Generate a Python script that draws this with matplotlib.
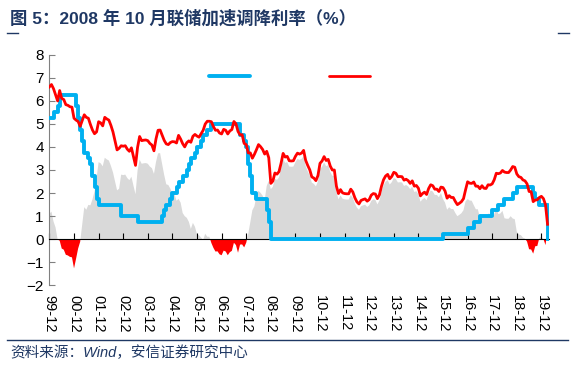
import numpy as np
import matplotlib
matplotlib.use("Agg")
import matplotlib.pyplot as plt
from matplotlib.lines import Line2D

plt.rcParams["font.family"] = ["Liberation Sans", "Noto Sans CJK SC"]

# Monthly data, 1999-12 .. 2020-03
# US 10Y treasury yield (%)
ten_year = [
    6.60,
    6.70, 6.52, 6.26, 5.99, 6.44, 6.10, 6.05, 5.83, 5.80, 5.74, 5.72, 5.24,  # 2000
    5.16, 5.10, 4.89, 5.14, 5.39, 5.28, 5.24, 4.97, 4.73, 4.57, 4.65, 5.09,  # 2001
    5.04, 4.91, 5.28, 5.21, 5.16, 4.93, 4.65, 4.26, 3.87, 3.94, 4.05, 4.03,  # 2002
    4.05, 3.90, 3.81, 3.96, 3.57, 3.20, 3.98, 4.45, 4.27, 4.29, 4.30, 4.27,  # 2003
    4.15, 4.08, 3.83, 4.35, 4.72, 4.73, 4.50, 4.28, 4.13, 4.10, 4.19, 4.23,  # 2004
    4.22, 4.17, 4.50, 4.34, 4.14, 4.00, 4.18, 4.26, 4.20, 4.46, 4.54, 4.47,  # 2005
    4.42, 4.57, 4.72, 4.99, 5.11, 5.11, 5.09, 4.88, 4.72, 4.73, 4.60, 4.56,  # 2006
    4.76, 4.72, 4.56, 4.69, 4.75, 5.10, 5.00, 4.67, 4.52, 4.53, 4.15, 4.10,  # 2007
    3.74, 3.74, 3.51, 3.68, 3.88, 4.10, 4.01, 3.89, 3.69, 3.81, 3.53, 2.42,  # 2008
    2.52, 2.87, 2.82, 2.93, 3.29, 3.72, 3.56, 3.59, 3.40, 3.39, 3.40, 3.59,  # 2009
    3.73, 3.69, 3.73, 3.85, 3.42, 3.20, 3.01, 2.70, 2.65, 2.54, 2.76, 3.29,  # 2010
    3.39, 3.58, 3.41, 3.46, 3.17, 3.00, 3.00, 2.30, 1.98, 2.15, 2.01, 1.98,  # 2011
    1.97, 1.97, 2.17, 2.05, 1.80, 1.62, 1.53, 1.68, 1.72, 1.75, 1.65, 1.72,  # 2012
    1.91, 1.98, 1.96, 1.76, 1.93, 2.30, 2.58, 2.74, 2.81, 2.62, 2.72, 2.90,  # 2013
    2.86, 2.71, 2.72, 2.71, 2.56, 2.60, 2.54, 2.42, 2.53, 2.30, 2.33, 2.21,  # 2014
    1.88, 1.98, 2.04, 1.94, 2.20, 2.36, 2.32, 2.17, 2.17, 2.07, 2.26, 2.24,  # 2015
    2.09, 1.78, 1.89, 1.81, 1.81, 1.64, 1.50, 1.56, 1.63, 1.76, 2.14, 2.49,  # 2016
    2.43, 2.42, 2.48, 2.30, 2.30, 2.19, 2.32, 2.21, 2.20, 2.36, 2.35, 2.40,  # 2017
    2.58, 2.86, 2.84, 2.87, 2.98, 2.91, 2.89, 2.89, 3.00, 3.15, 3.12, 2.83,  # 2018
    2.71, 2.68, 2.57, 2.53, 2.40, 2.07, 2.06, 1.63, 1.70, 1.71, 1.81, 1.86,  # 2019
    1.76, 1.50, 0.65,                                                        # 2020
]

# Fed funds rate, lower end (%)
fed_funds = [
    5.25,
    5.25, 5.50, 5.50, 5.75, 6.25, 6.25, 6.25, 6.25, 6.25, 6.25, 6.25, 6.25,  # 2000
    5.75, 5.25, 4.75, 4.25, 3.75, 3.75, 3.50, 3.25, 2.75, 2.25, 1.75, 1.50,  # 2001
    1.50, 1.50, 1.50, 1.50, 1.50, 1.50, 1.50, 1.50, 1.50, 1.50, 1.00, 1.00,  # 2002
    1.00, 1.00, 1.00, 1.00, 1.00, 1.00, 0.75, 0.75, 0.75, 0.75, 0.75, 0.75,  # 2003
    0.75, 0.75, 0.75, 0.75, 0.75, 0.75, 1.00, 1.25, 1.50, 1.50, 1.75, 2.00,  # 2004
    2.00, 2.25, 2.50, 2.50, 2.75, 2.75, 3.00, 3.25, 3.50, 3.50, 3.75, 4.00,  # 2005
    4.00, 4.25, 4.50, 4.50, 4.75, 4.75, 5.00, 5.00, 5.00, 5.00, 5.00, 5.00,  # 2006
    5.00, 5.00, 5.00, 5.00, 5.00, 5.00, 5.00, 5.00, 4.50, 4.50, 4.25, 4.00,  # 2007
    3.25, 2.75, 2.00, 2.00, 1.75, 1.75, 1.75, 1.75, 1.75, 1.25, 0.75, 0.00,  # 2008
    0.00, 0.00, 0.00, 0.00, 0.00, 0.00, 0.00, 0.00, 0.00, 0.00, 0.00, 0.00,  # 2009
    0.00, 0.00, 0.00, 0.00, 0.00, 0.00, 0.00, 0.00, 0.00, 0.00, 0.00, 0.00,  # 2010
    0.00, 0.00, 0.00, 0.00, 0.00, 0.00, 0.00, 0.00, 0.00, 0.00, 0.00, 0.00,  # 2011
    0.00, 0.00, 0.00, 0.00, 0.00, 0.00, 0.00, 0.00, 0.00, 0.00, 0.00, 0.00,  # 2012
    0.00, 0.00, 0.00, 0.00, 0.00, 0.00, 0.00, 0.00, 0.00, 0.00, 0.00, 0.00,  # 2013
    0.00, 0.00, 0.00, 0.00, 0.00, 0.00, 0.00, 0.00, 0.00, 0.00, 0.00, 0.00,  # 2014
    0.00, 0.00, 0.00, 0.00, 0.00, 0.00, 0.00, 0.00, 0.00, 0.00, 0.00, 0.25,  # 2015
    0.25, 0.25, 0.25, 0.25, 0.25, 0.25, 0.25, 0.25, 0.25, 0.25, 0.25, 0.50,  # 2016
    0.50, 0.50, 0.75, 0.75, 0.75, 1.00, 1.00, 1.00, 1.00, 1.00, 1.00, 1.25,  # 2017
    1.25, 1.25, 1.50, 1.50, 1.50, 1.75, 1.75, 1.75, 1.75, 2.00, 2.00, 2.25,  # 2018
    2.25, 2.25, 2.25, 2.25, 2.25, 2.25, 2.25, 2.00, 1.75, 1.75, 1.50, 1.50,  # 2019
    1.50, 1.50, 0.00,                                                        # 2020
]

# width of the target band (spread is taken against the upper end)
band_width = 0.25

xtick_labels = ["99-12", "00-12", "01-12", "02-12", "03-12", "04-12", "05-12",
                "06-12", "07-12", "08-12", "09-12", "10-12", "11-12", "12-12",
                "13-12", "14-12", "15-12", "16-12", "17-12", "18-12", "19-12"]

title = "图 5：2008 年 10 月联储加速调降利率（%）"
source = "资料来源：Wind，安信证券研究中心"

navy = "#1F3864"
blue = "#00B0F0"
red = "#FF0000"
gray = "#D9D9D9"

months = np.arange(len(ten_year))
ten = np.array(ten_year)
ffr = np.array(fed_funds)
spread = ten - (ffr + band_width)
tick_pos = months[::12][:len(xtick_labels)]

fig = plt.figure(figsize=(5.74, 3.69), dpi=100)
ax = fig.add_axes([0.0861, 0.2263, 0.8696, 0.626])

# spread area: grey above zero, red below
ax.fill_between(months, 0, spread, where=spread >= 0, interpolate=True,
                color=gray, lw=0, zorder=1)
ax.fill_between(months, 0, spread, where=spread <= 0, interpolate=True,
                color=red, lw=0, zorder=1)

ax.step(months, ffr, where="post", color=blue, lw=2.8, zorder=3)
ax.plot(months, ten, color=red, lw=2.0, zorder=4)

ax.set_xlim(0, len(ten_year) - 0.5)
ax.set_ylim(-2, 8)
ax.set_yticks(range(-2, 9))

# x axis line sits at zero, labels at the bottom
ax.spines["bottom"].set_position(("data", 0))
ax.spines["bottom"].set_color("black")
ax.spines["bottom"].set_linewidth(0.8)
ax.spines["top"].set_visible(False)
ax.spines["right"].set_visible(False)
ax.spines["left"].set_color("#808080")
ax.set_xticks(tick_pos)
ax.tick_params(axis="x", direction="in", length=4, width=0.8, color="black",
               labelbottom=False)
ax.tick_params(axis="y", direction="in", length=4, width=0.8, color="#808080",
               labelsize=11, pad=4)

sec = ax.secondary_xaxis("bottom")
sec.set_xticks(tick_pos, labels=xtick_labels)
sec.tick_params(length=0, pad=7, labelsize=10.5)
sec.spines["bottom"].set_visible(False)
for lbl in sec.get_xticklabels():
    lbl.set_rotation(270)

handles = [Line2D([], [], color=blue, lw=2.8, solid_capstyle="round"),
           Line2D([], [], color=red, lw=2.0, solid_capstyle="round")]
fig.legend(handles, [" ", " "], ncol=2, loc="center",
           bbox_to_anchor=(0.517, 0.791), frameon=False, fontsize=10,
           handlelength=2.95, columnspacing=4.6, handletextpad=0.8)

fig.text(10 / 574, 1 - 18 / 369, title, fontsize=12.5, weight="bold",
         color=navy, va="center", ha="left")
fig.text(10 / 574, 1 - 353 / 369, source, fontsize=10.5, style="italic",
         color=navy, va="center", ha="left")

# decorative rules
fig.add_artist(Line2D([7 / 574, 18 / 574], [1 - 33 / 369] * 2, color=navy, lw=1))
fig.add_artist(Line2D([558 / 574, 569 / 574], [1 - 33 / 369] * 2, color=navy, lw=1))
fig.add_artist(Line2D([7 / 574, 568 / 574], [1 - 340 / 369] * 2, color=navy, lw=1))

fig.savefig("out.png", dpi=100)
